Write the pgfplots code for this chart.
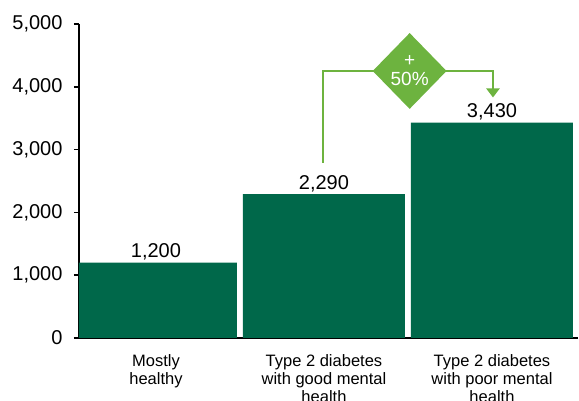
\documentclass[border=0pt]{standalone}
\usepackage{pgfplots}
\pgfplotsset{compat=1.18}
\usepackage{fontspec}
\setmainfont{Liberation Sans}
\usetikzlibrary{shapes.geometric,arrows.meta}
\definecolor{barcol}{HTML}{00684A}
\definecolor{accent}{HTML}{6DB33F}
\begin{document}
\begin{tikzpicture}
\begin{axis}[
  scale only axis,
  width=499pt, height=314pt,
  ymin=0, ymax=5000,
  xmin=-0.458, xmax=2.512,
  ytick={0,1000,2000,3000,4000,5000},
  xtick={0,1,2},
  xticklabels={{Mostly\\healthy},{Type 2 diabetes\\with good mental\\health},{Type 2 diabetes\\with poor mental\\health}},
  /pgf/number format/.cd, 1000 sep={,}, assume math mode=true, /pgfplots/.cd,
  axis x line*=bottom, axis y line*=left,
  axis line style={line width=2pt, black},
  y axis line style={-}, x axis line style={-},
  ytick style={line width=1.5pt, black},
  tick align=outside,
  major tick length=5pt,
  xtick style={draw=none},
  yticklabel style={font=\fontsize{20}{24}\selectfont, xshift=-8pt},
  xticklabel style={font=\fontsize{16.5}{18}\selectfont, align=center, yshift=-8pt},
  ybar, bar width=0.964,
  nodes near coords,
  every node near coord/.append style={font=\fontsize{20}{24}\selectfont, black, yshift=-1pt},
]
\addplot[fill=barcol, draw=none] coordinates {(0,1200) (1,2290) (2,3430)};
\draw[accent, line width=2.2pt, -{Triangle[length=9pt,width=13pt]}]
  (axis cs:0.994,2787) |- (axis cs:2.006,4252) -- (axis cs:2.006,3830);
\node[diamond, fill=accent, minimum width=74pt, minimum height=76pt, inner sep=0pt,
  text=white, align=center, font=\fontsize{19}{19}\selectfont]
  at (axis cs:1.51,4252) {+\\50\%};
\end{axis}
\pgfresetboundingbox
\path[use as bounding box] (-79pt,-63pt) rectangle (500pt,338pt);
\end{tikzpicture}
\end{document}
